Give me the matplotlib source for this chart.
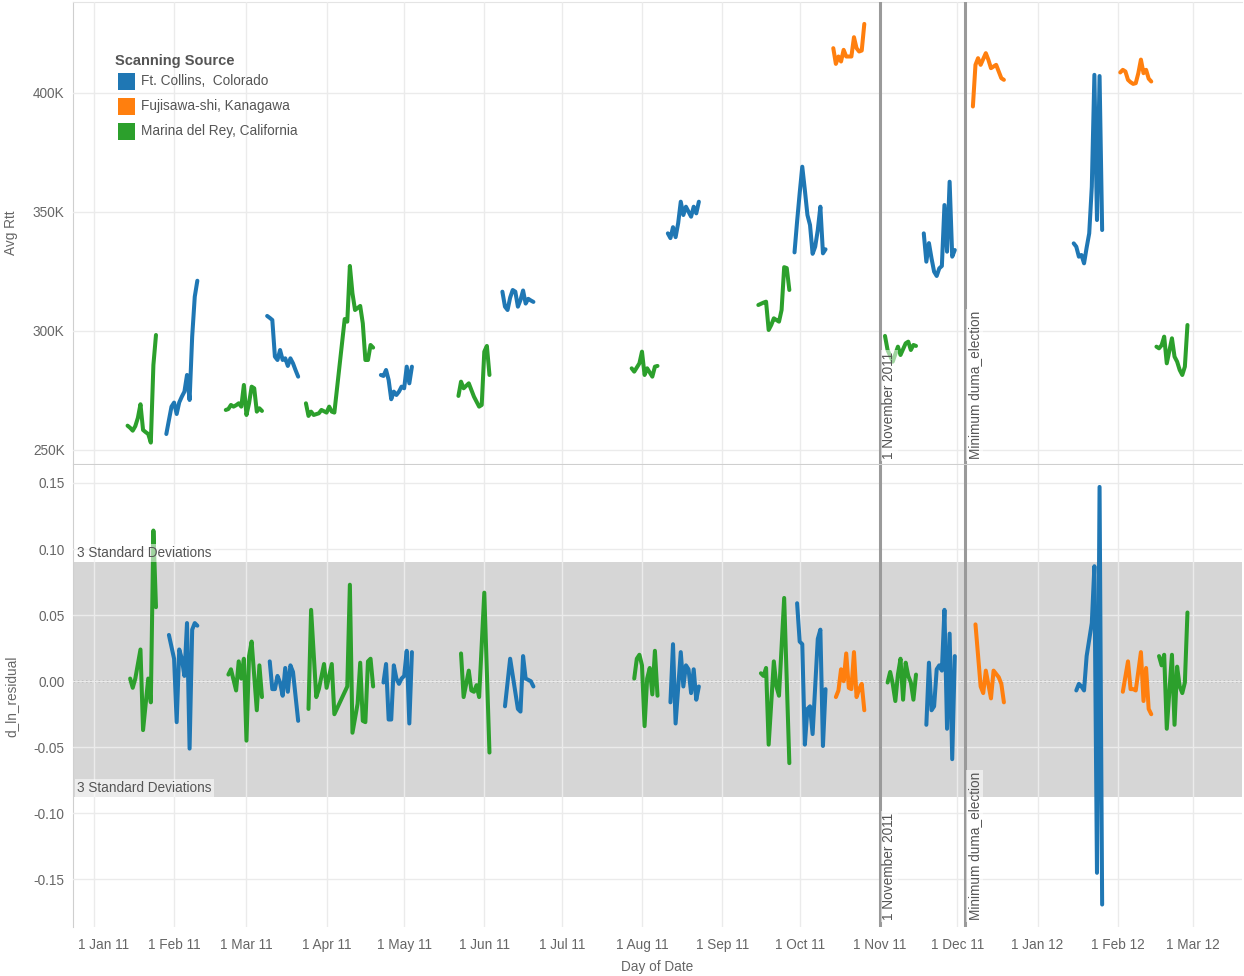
import numpy as np
import matplotlib
matplotlib.use('Agg')
import matplotlib.pyplot as plt
import matplotlib.dates as mdates
from matplotlib.transforms import ScaledTranslation, blended_transform_factory
from matplotlib.patches import Rectangle
from matplotlib.ticker import FuncFormatter, FixedLocator

plt.rcParams['font.family'] = ['Liberation Sans', 'DejaVu Sans']
plt.rcParams['axes.unicode_minus'] = False

START = '2011-01-01'   # day offsets below count from this date

SOURCES = ['Ft. Collins,  Colorado', 'Fujisawa-shi, Kanagawa', 'Marina del Rey, California']
COLORS = ['#1f77b4', '#ff7f0e', '#2ca02c']

# ---------------- Avg Rtt (thousands) ----------------
ftc_rtt_day = [28, 29, 30, 31, 32, 33, 34, 35, 36, 37, 38, 39, 40,
               67, 68, 69, 70, 71, 72, 73, 74, 75, 76, 77, 78, 79,
               111, 112, 113, 114, 115, 116, 117, 118, 119, 120, 121, 122, 123,
               158, 159, 160, 161, 162, 163, 164, 165, 166, 167, 168, 169, 170,
               222, 223, 224, 225, 226, 227, 228, 229, 231, 232, 233, 234,
               271, 272, 273, 274, 275, 276, 277, 278, 279, 280, 281, 282, 283,
               321, 322, 323, 324, 325, 326, 327, 328, 329, 330, 331, 332, 333,
               379, 380, 381, 382, 383, 384, 385, 386, 387, 388, 389, 390]
ftc_rtt = [256.7, 262.5, 268.2, 269.9, 265.1, 270.0, 272.4, 274.5, 281.5, 271.0, 297.6, 314.4, 321.1,
           306.3, 305.5, 304.6, 289.2, 287.8, 292.0, 287.8, 288.5, 285.3, 288.5, 286.4, 283.5, 280.8,
           281.5, 281.1, 283.6, 279.4, 271.3, 274.5, 273.1, 274.5, 276.6, 275.9, 285.0, 278.0, 285.0,
           316.5, 310.2, 308.8, 314.0, 317.2, 316.5, 310.2, 313.0, 317.0, 311.5, 313.5, 312.8, 312.2,
           341.0, 339.0, 343.6, 339.4, 345.3, 354.3, 348.7, 352.2, 348.0, 352.2, 349.4, 354.3,
           333.0, 346.0, 357.9, 369.0, 359.2, 348.7, 344.5, 332.4, 335.4, 342.4, 352.2, 332.6, 334.3,
           341.0, 329.1, 336.9, 330.5, 324.9, 323.1, 326.3, 327.3, 352.9, 333.3, 362.7, 331.2, 334.0,
           336.8, 335.4, 331.2, 331.9, 328.4, 335.0, 341.0, 360.6, 407.6, 346.6, 407.1, 342.4]

fuj_rtt_day = [286, 287, 288, 289, 290, 291, 293, 294, 295, 296, 297, 298,
               340, 341, 342, 343, 345, 346, 347, 349, 350, 351, 352,
               397, 398, 399, 400, 401, 402, 403, 404, 405, 406, 407, 408, 409]
fuj_rtt = [418.8, 412.2, 415.3, 413.2, 418.1, 415.3, 415.3, 423.4, 418.8, 417.4, 417.8, 429.0,
           394.3, 411.8, 414.6, 411.8, 416.7, 413.9, 410.4, 411.8, 409.0, 406.2, 405.5,
           408.6, 409.7, 409.0, 405.5, 404.5, 403.8, 404.1, 408.3, 414.0, 408.3, 409.7, 406.0, 404.8]

mdr_rtt_day = [13, 14, 15, 16, 17, 18, 19, 20, 21, 22, 23, 24,
               51, 52, 53, 54, 55, 56, 57, 58, 59, 60, 61, 62, 63, 64, 65,
               82, 83, 84, 85, 87, 88, 90, 91, 92, 93,
               97, 98, 99, 100, 101, 103, 104, 105, 106, 107, 108,
               141, 142, 143, 145, 147, 148, 149, 150, 151, 152, 153,
               208, 209, 211, 212, 213, 214, 216, 217, 218,
               257, 259, 260, 261, 262, 263, 264, 265, 266, 267, 268, 269,
               306, 307, 308, 309, 311, 312, 314, 315, 316, 317, 318,
               411, 412, 413, 414, 415, 417, 418, 419, 420, 421, 422, 423]
mdr_rtt = [260.2, 259.3, 258.1, 260.0, 263.5, 269.2, 258.4, 257.5, 256.7, 253.1, 285.7, 298.3,
           266.8, 267.2, 268.9, 268.2, 268.8, 269.6, 268.2, 277.3, 264.7, 269.6, 276.6, 275.9, 266.1, 267.5, 266.4,
           269.6, 264.3, 266.1, 264.7, 265.4, 266.8, 265.7, 268.2, 266.1, 265.7,
           305.0, 303.9, 327.3, 315.8, 308.8, 310.5, 303.2, 287.8, 287.8, 294.1, 293.0,
           272.7, 278.7, 275.9, 278.0, 272.4, 270.3, 268.2, 268.9, 291.3, 293.7, 281.5,
           284.3, 282.9, 286.4, 291.3, 281.5, 284.3, 280.8, 285.0, 285.3,
           310.9, 311.9, 312.3, 300.4, 302.5, 305.3, 304.6, 303.9, 308.8, 326.8, 326.4, 317.2,
           297.9, 292.0, 289.5, 287.1, 293.4, 289.9, 294.8, 295.5, 292.0, 294.1, 293.7,
           293.4, 292.7, 294.0, 297.6, 286.4, 296.9, 289.2, 287.1, 283.6, 281.5, 285.0, 302.5]

# ---------------- d_ln_residual ----------------
ftc_res_day = [29, 31, 32, 33, 34, 35, 36, 37, 38, 39, 40,
               68, 69, 70, 71, 72, 73, 74, 75, 76, 77, 79,
               112, 113, 114, 115, 116, 117, 118, 119, 120, 121, 122, 123,
               159, 161, 164, 165, 166, 167, 169, 170,
               223, 224, 225, 227, 228, 229, 230, 231, 232, 233, 234,
               272, 273, 274, 275, 276, 277, 278, 280, 281, 282, 283,
               322, 323, 324, 325, 326, 327, 328, 329, 330, 331, 332, 333,
               380, 381, 382, 383, 384, 386, 387, 388, 389, 390]
ftc_res = [0.035, 0.017, -0.031, 0.024, 0.017, 0.004, 0.044, -0.051, 0.039, 0.044, 0.042,
           0.015, -0.006, -0.006, 0.004, -0.001, -0.011, 0.010, -0.008, 0.012, 0.007, -0.030,
           -0.001, 0.013, -0.029, -0.029, 0.012, 0.002, -0.002, 0.002, 0.004, 0.023, -0.032, 0.022,
           -0.019, 0.017, -0.021, -0.023, 0.019, 0.002, 0.000, -0.004,
           -0.016, 0.028, -0.032, 0.022, -0.004, 0.012, 0.009, -0.009, 0.009, -0.014, -0.004,
           0.059, 0.030, 0.028, -0.048, -0.021, -0.019, -0.040, 0.032, 0.039, -0.049, -0.006,
           -0.033, 0.014, -0.022, -0.019, 0.009, 0.012, 0.008, 0.054, -0.036, 0.036, -0.059, 0.019,
           -0.007, -0.002, -0.004, -0.007, 0.019, 0.044, 0.087, -0.145, 0.147, -0.169]

fuj_res_day = [287, 288, 289, 290, 291, 292, 293, 294, 295, 296, 297, 298,
               341, 343, 344, 345, 347, 348, 350, 351, 352,
               398, 400, 401, 402, 403, 405, 406, 407, 408, 409]
fuj_res = [-0.012, -0.007, 0.009, 0.000, 0.021, -0.005, -0.006, 0.022, -0.012, -0.006, -0.002, -0.022,
           0.043, -0.004, -0.009, 0.008, -0.013, 0.008, 0.003, -0.002, -0.016,
           -0.008, 0.015, -0.006, -0.006, -0.007, 0.022, -0.015, 0.010, -0.021, -0.025]

mdr_res_day = [14, 15, 16, 18, 19, 21, 22, 23, 24,
               52, 53, 55, 56, 57, 58, 59, 60, 61, 63, 64, 65,
               83, 84, 86, 87, 89, 90, 92, 93,
               98, 99, 100, 102, 103, 104, 105, 106, 107, 108,
               142, 143, 145, 146, 147, 148, 149, 151, 153,
               209, 210, 211, 212, 213, 214, 215, 216, 217, 218,
               258, 259, 260, 261, 263, 264, 265, 267, 269,
               307, 308, 309, 310, 311, 312, 313, 314, 315, 316, 317, 318,
               412, 413, 414, 415, 417, 418, 419, 420, 421, 422, 423]
mdr_res = [0.002, -0.005, 0.002, 0.024, -0.037, 0.002, -0.016, 0.114, 0.056,
           0.005, 0.009, -0.007, 0.015, 0.002, 0.017, -0.045, 0.019, 0.030, -0.022, 0.012, -0.012,
           -0.021, 0.054, -0.012, -0.006, 0.013, -0.005, 0.013, -0.025,
           -0.004, 0.073, -0.039, -0.017, 0.014, -0.030, -0.031, 0.015, 0.017, -0.004,
           0.021, -0.012, 0.008, -0.007, -0.008, -0.003, -0.012, 0.067, -0.054,
           0.002, 0.017, 0.020, 0.012, -0.034, 0.002, 0.010, -0.010, 0.023, -0.011,
           0.006, 0.004, 0.010, -0.048, 0.015, -0.004, -0.011, 0.063, -0.062,
           -0.001, 0.007, -0.002, -0.015, 0.005, 0.017, -0.014, 0.014, 0.004, -0.001, -0.014, 0.005,
           0.019, 0.012, 0.020, -0.036, 0.020, -0.033, 0.011, -0.004, -0.009, -0.001, 0.052]

# reference bands / lines
band_upper = 0.0899
band_lower = -0.0877
ref_dates = ['2011-11-01', '2011-12-04']
ref_labels = ['1 November 2011', 'Minimum duma_election']
band_label = '3 Standard Deviations'

rtt_ticks = [250, 300, 350, 400]
res_ticks = [-0.15, -0.10, -0.05, 0.00, 0.05, 0.10, 0.15]

# ---------------------------------------------------------------
W, H = 1244, 976
fig = plt.figure(figsize=(W / 100, H / 100), dpi=100)
L, R = 73, 1242
ax1 = fig.add_axes([L / W, 1 - 464 / H, (R - L) / W, 462 / H])
ax2 = fig.add_axes([L / W, 1 - 927 / H, (R - L) / W, 462 / H], sharex=ax1)

base = mdates.date2num(np.datetime64(START))
GRID = '#ebebeb'
TXT = '#666666'


def xs(days):
    return base + np.asarray(days, dtype=float)


def draw(ax, days, vals, color):
    days = np.asarray(days)
    vals = np.asarray(vals, dtype=float)
    brk = np.where(np.diff(days) > 5)[0] + 1
    for d, v in zip(np.split(days, brk), np.split(vals, brk)):
        ax.plot(xs(d), v, color=color, lw=2.9, solid_joinstyle='round',
                solid_capstyle='round', zorder=3)


draw(ax1, ftc_rtt_day, ftc_rtt, COLORS[0])
draw(ax1, fuj_rtt_day, fuj_rtt, COLORS[1])
draw(ax1, mdr_rtt_day, mdr_rtt, COLORS[2])
draw(ax2, ftc_res_day, ftc_res, COLORS[0])
draw(ax2, fuj_res_day, fuj_res, COLORS[1])
draw(ax2, mdr_res_day, mdr_res, COLORS[2])

ax1.set_xlim(base - 8.1, base + 444.1)
ax1.set_ylim(244.1, 438.2)
ax2.set_ylim(-0.186, 0.1636)

# band
ax2.axhspan(band_lower, band_upper, color='#d6d6d6', zorder=0.5, lw=0)

# ticks / grids
ax1.xaxis.set_major_locator(mdates.MonthLocator())
ax1.xaxis.set_major_formatter(mdates.DateFormatter('1 %b %y'))
ax1.yaxis.set_major_locator(FixedLocator(rtt_ticks))
ax1.yaxis.set_major_formatter(FuncFormatter(lambda v, p: f'{v:.0f}K'))
ax2.yaxis.set_major_locator(FixedLocator(res_ticks))
ax2.yaxis.set_major_formatter(FuncFormatter(lambda v, p: f'{v:.2f}'))

for ax in (ax1, ax2):
    ax.grid(True, color=GRID, lw=1.0, zorder=1)
    ax.set_axisbelow(False)
    for gl in ax.get_xgridlines() + ax.get_ygridlines():
        gl.set_zorder(1)
    ax.tick_params(length=0, labelsize=9.8, labelcolor=TXT, pad=6)
    for s in ('right', 'top', 'bottom'):
        ax.spines[s].set_visible(False)
    ax.spines['left'].set_color('#cfcfcf')
    ax.set_facecolor('white')

ax2.axhline(0, color='#444444', lw=1.0, ls=(0, (1.2, 1.8)), zorder=2.5)

ax1.spines['bottom'].set_visible(True)
ax1.spines['bottom'].set_color('#cfcfcf')
ax1.spines['top'].set_visible(True)
ax1.spines['top'].set_color('#e4e4e4')
ax1.tick_params(axis='x', labelbottom=False)
ax2.tick_params(axis='x', pad=8)

fig.canvas.draw()
lab0 = ax2.get_xticklabels()[0]
lab0.set_transform(lab0.get_transform() + ScaledTranslation(10 / 100, 0, fig.dpi_scale_trans))

ax1.set_ylabel('Avg Rtt', fontsize=9.8, color=TXT)
ax2.set_ylabel('d_ln_residual', fontsize=9.8, color=TXT)
ax1.yaxis.set_label_coords(-55 / (R - L), 0.5)
ax2.yaxis.set_label_coords(-55 / (R - L), 0.5)
ax2.set_xlabel('Day of Date', fontsize=9.8, color=TXT, labelpad=6)

# reference lines with labels
for ax, ybot in ((ax1, 5 / 462), (ax2, 7 / 462)):
    tr = blended_transform_factory(ax.transData, ax.transAxes) + \
        ScaledTranslation(2.5 / 100, 0, fig.dpi_scale_trans)
    for d, lab in zip(ref_dates, ref_labels):
        xv = mdates.date2num(np.datetime64(d))
        ax.axvline(xv, color='#9a9a9a', lw=2.2, zorder=4)
        ax.text(xv, ybot, lab, rotation=90, ha='left', va='bottom', transform=tr,
                fontsize=9.8, color='#555555', zorder=6,
                bbox=dict(boxstyle='square,pad=0.12', fc='white', ec='none', alpha=0.55))

# band labels
trb = ax2.get_yaxis_transform()
off = ScaledTranslation(4 / 100, 2 / 100, fig.dpi_scale_trans)
ax2.text(0, band_upper, band_label, transform=trb + off, ha='left', va='bottom',
         fontsize=9.8, color='#555555', zorder=6,
         bbox=dict(boxstyle='square,pad=0.15', fc='white', ec='none', alpha=0.55))
ax2.text(0, band_lower, band_label, transform=trb + off, ha='left', va='bottom',
         fontsize=9.8, color='#555555', zorder=6,
         bbox=dict(boxstyle='square,pad=0.15', fc='white', ec='none', alpha=0.55))

# legend
fig.text(115 / W, 1 - 61 / H, 'Scanning Source', fontsize=10.5, fontweight='bold',
         color='#555555', ha='left', va='center')
for i, (name, col) in enumerate(zip(SOURCES, COLORS)):
    yc = 81 + 25 * i
    fig.patches.append(Rectangle((118 / W, 1 - (yc + 8.5) / H), 17 / W, 17 / H,
                                 transform=fig.transFigure, fc=col, ec='none'))
    fig.text(141 / W, 1 - yc / H, name, fontsize=9.8, color='#555555',
             ha='left', va='center')

fig.savefig('out.png', dpi=100)
